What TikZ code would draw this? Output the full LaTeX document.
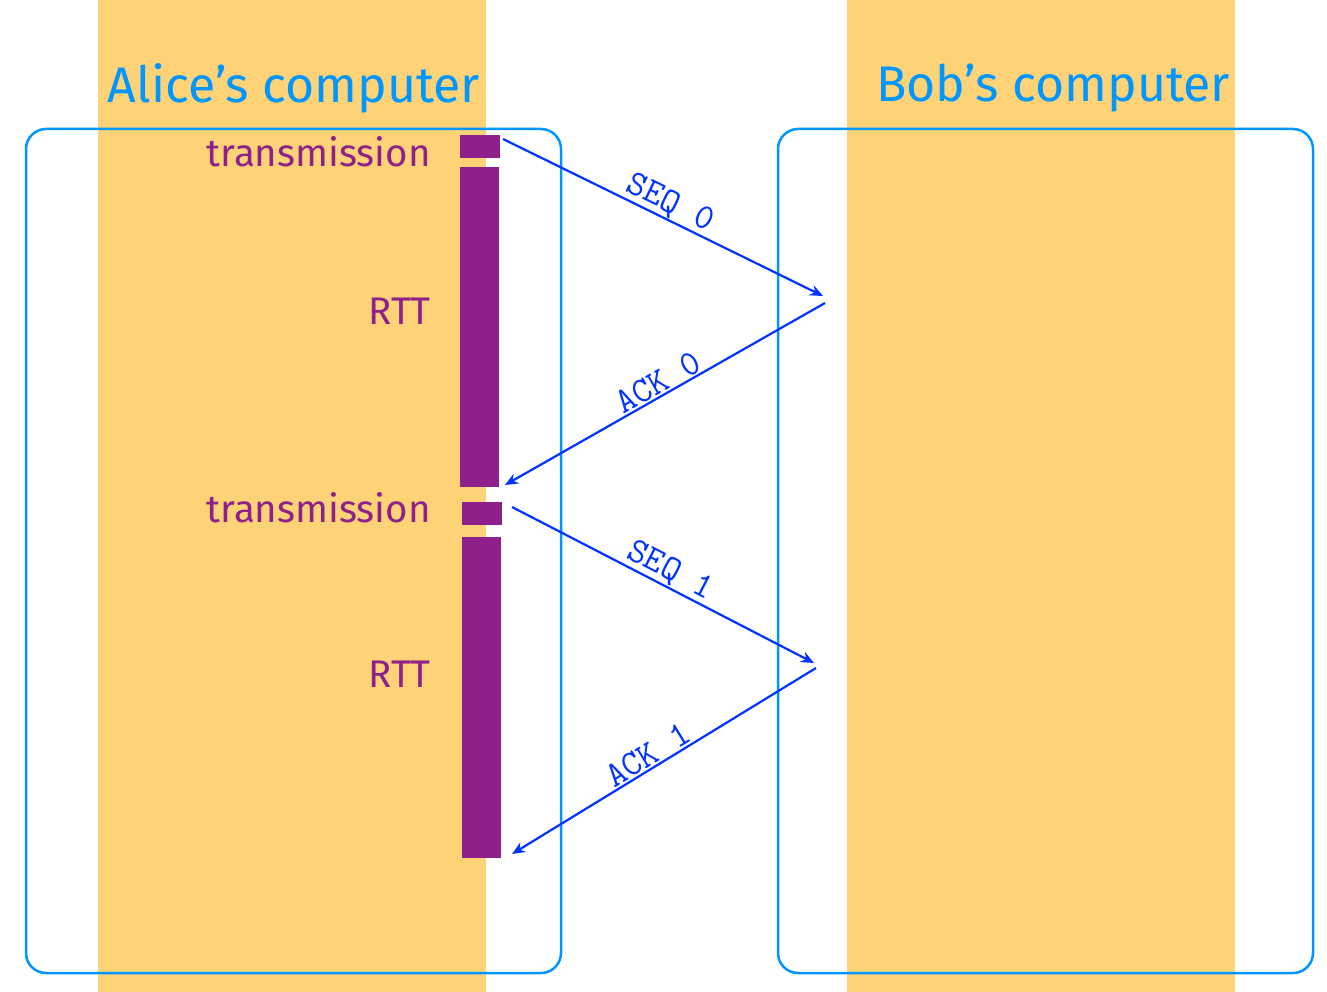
\documentclass[tikz,border=0pt]{standalone}
\usepackage{fontspec}
\setmainfont{Fira Sans}
\usetikzlibrary{arrows.meta}
\definecolor{band}{RGB}{254,211,120}
\definecolor{boxblue}{RGB}{0,150,255}
\definecolor{barpurple}{RGB}{142,31,139}
\definecolor{arrowblue}{RGB}{0,51,255}
\tikzset{
  computerbox/.style={draw=boxblue, line width=2.5pt, rounded corners=20pt},
  titletext/.style={text=boxblue, font=\fontsize{50}{58}\selectfont, inner sep=0pt},
  phasetext/.style={text=barpurple, font=\fontsize{38.5}{46}\selectfont, inner sep=0pt, anchor=east},
  barblock/.style={fill=barpurple, inner sep=0pt, anchor=north west},
  msg/.style={draw=arrowblue, line width=2.2pt, -{Stealth[length=13pt,width=11pt]}},
  msglabel/.style={text=arrowblue, font=\ttfamily\fontsize{36}{40}\selectfont, sloped, above, inner sep=1pt}
}
\begin{document}
\begin{tikzpicture}[x=1pt,y=-1pt]
\useasboundingbox (0,0) rectangle (1327,992);
% background bands
\fill[band] (98,0) rectangle (486,992);
\fill[band] (847,0) rectangle (1235,992);
% computer boxes
\draw[computerbox] (26,129) rectangle (561,973);
\draw[computerbox] (778,129) rectangle (1313,973);
% titles
\node[titletext] (alice) at (294,88) {Alice’s computer};
\node[titletext] (bob) at (1053,88) {Bob’s computer};
% bars
\node[barblock, minimum width=40pt, minimum height=23pt] (t0) at (460,135) {};
\node[barblock, minimum width=39pt, minimum height=320pt] (b0) at (460,167) {};
\node[barblock, minimum width=40pt, minimum height=23pt] (t1) at (462,502) {};
\node[barblock, minimum width=39pt, minimum height=321pt] (b1) at (462,537) {};
% phase labels
\node[phasetext] (tx0) at (431,152) {transmission};
\node[phasetext] (rtt0) at (431,311) {RTT};
\node[phasetext] (tx1) at (431,508) {transmission};
\node[phasetext] (rtt1) at (431,674) {RTT};
% message endpoints
\coordinate (s0) at (503,139);
\coordinate (r0) at (823,296);
\coordinate (a0s) at (825,303);
\coordinate (a0e) at (505,485);
\coordinate (s1) at (512,507);
\coordinate (r1) at (814,663);
\coordinate (a1s) at (816,668);
\coordinate (a1e) at (512,854);
% messages
\draw[msg] (s0) -- node[msglabel] {SEQ 0} (r0);
\draw[msg] (a0s) -- node[msglabel] {ACK 0} (a0e);
\draw[msg] (s1) -- node[msglabel] {SEQ 1} (r1);
\draw[msg] (a1s) -- node[msglabel, pos=0.53] {ACK 1} (a1e);
\end{tikzpicture}
\end{document}
